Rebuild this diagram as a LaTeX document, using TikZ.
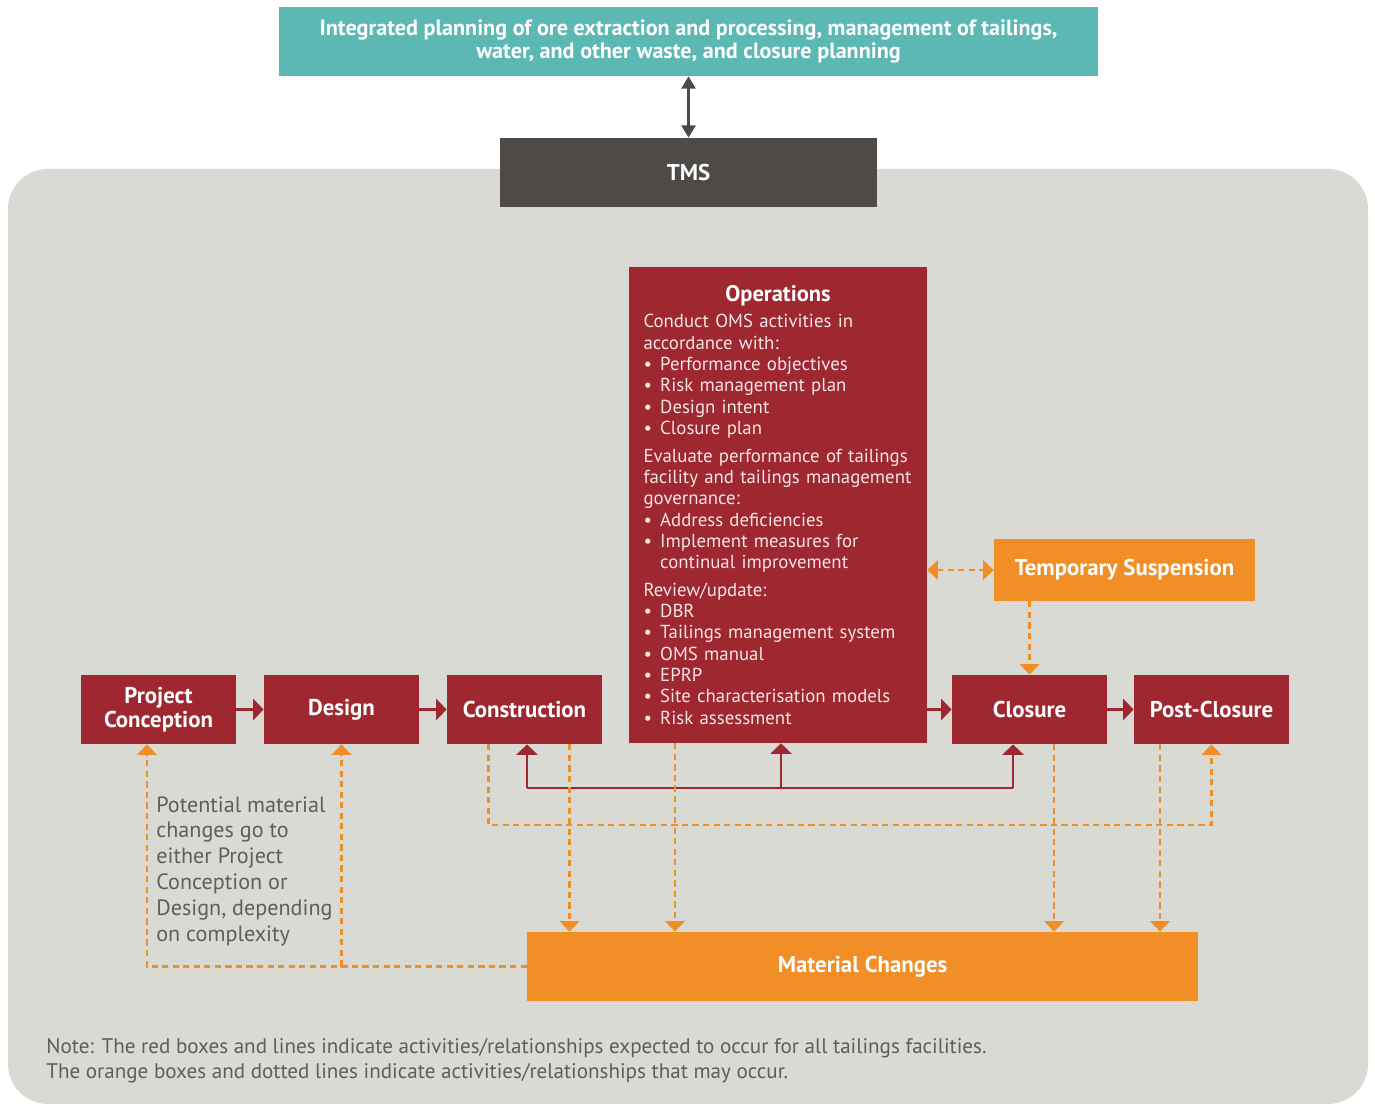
\documentclass[tikz,border=0pt]{standalone}
\usepackage{fontspec}
\setmainfont{PT Sans}
\usetikzlibrary{arrows.meta,calc}
\definecolor{tealbox}{HTML}{5BB8B2}
\definecolor{tmsgray}{HTML}{4E4A47}
\definecolor{bggray}{HTML}{DADAD5}
\definecolor{tmred}{HTML}{9E2730}
\definecolor{tmorange}{HTML}{F28E26}
\definecolor{notegray}{HTML}{5E5E5E}
\definecolor{opstext}{HTML}{F4E6E6}
\hyphenpenalty=10000
\newcommand{\bul}[1]{\par\hangindent=9.5pt\hangafter=1\makebox[9.5pt][l]{\textbullet}#1}
\begin{document}
\begin{tikzpicture}[x=0.02cm,y=-0.02cm,
	redbox/.style={fill=tmred,text=white,font=\bfseries\fontsize{13}{13.6}\selectfont,align=center,minimum width=3.1cm,minimum height=1.38cm,inner sep=2pt},
	orangebox/.style={fill=tmorange,text=white,font=\bfseries\fontsize{13}{13.6}\selectfont,align=center,inner sep=2pt},
	redarrow/.style={draw=tmred,line width=1.6pt,-{Triangle[width=12pt,length=6pt]}},
	orangedash/.style={draw=tmorange,line width=1.5pt,dash pattern=on 3.5pt off 2.5pt},
	otip/.style={-{Triangle[width=11pt,length=6pt]}}]
	
	\useasboundingbox (0,0) rectangle (1375,1104);
	\fill[bggray,rounded corners=0.8cm] (8,169) rectangle (1368,1104);
	
	\node[fill=tealbox,text=white,font=\bfseries\fontsize{12.6}{13.6}\selectfont,align=center,minimum width=16.38cm,minimum height=1.38cm] (plan) at (688.5,41.5) {Integrated planning of ore extraction and processing, management of tailings,\\water, and other waste, and closure planning};
	\node[fill=tmsgray,text=white,font=\bfseries\fontsize{13}{13.6}\selectfont,minimum width=7.54cm,minimum height=1.38cm] (tms) at (688.5,172.5) {TMS};
	\draw[draw=tmsgray,line width=1.5pt,{Triangle[width=8pt,length=7pt]}-{Triangle[width=8pt,length=7pt]}] (plan) -- (tms);
	
	\node[redbox] (pc) at (158.5,709.5) {Project\\Conception};
	\node[redbox] (design) at (341.5,709.5) {Design};
	\node[redbox] (cons) at (524.5,709.5) {Construction};
	\node[redbox] (clos) at (1029.5,709.5) {Closure};
	\node[redbox] (pclos) at (1211.5,709.5) {Post-Closure};
	\node[fill=tmred,text=opstext,minimum height=9.52cm,text width=5.38cm,inner xsep=0.29cm,inner ysep=0pt,align=left,font=\fontsize{10.7}{12.15}\selectfont] (ops) at (778,505) {%
		{\centering\color{white}\bfseries\fontsize{12.8}{14}\selectfont Operations\par}\vspace{2.8pt}
		Conduct OMS activities in\\accordance with:
		\bul{Performance objectives}
		\bul{Risk management plan}
		\bul{Design intent}
		\bul{Closure plan}\par\vspace{3.5pt}
		Evaluate performance of tailings\\facility and tailings management\\governance:
		\bul{Address deficiencies}
		\bul{Implement measures for\newline continual improvement}\par\vspace{3.5pt}
		Review/update:
		\bul{DBR}
		\bul{Tailings management system}
		\bul{OMS manual}
		\bul{EPRP}
		\bul{Site characterisation models}
		\bul{Risk assessment}};
	\node[orangebox,minimum width=5.22cm,minimum height=1.24cm] (ts) at (1124.5,570) {Temporary Suspension};
	\node[orangebox,minimum width=13.42cm,minimum height=1.38cm] (mc) at (862.5,966.5) {Material Changes};
	
	\draw[redarrow] (pc) -- (design);
	\draw[redarrow] (design) -- (cons);
	\draw[redarrow] (clos.west -| ops.east) -- (clos);
	\draw[redarrow] (clos) -- (pclos);
	
	\coordinate (fbL) at (527,788);
	\coordinate (fbM) at (781,788);
	\coordinate (fbR) at (1013,788);
	\draw[draw=tmred,line width=1.6pt] (fbL) -- (fbR);
	\draw[redarrow] (fbL) -- (fbL |- cons.south);
	\draw[redarrow] (fbM) -- (fbM |- ops.south);
	\draw[redarrow] (fbR) -- (fbR |- clos.south);
	
	\draw[orangedash,{Triangle[width=11pt,length=6pt]}-{Triangle[width=11pt,length=6pt]}] (ts.west -| ops.east) -- (ts.west);
	\draw[orangedash,otip] (clos.north |- ts.south) -- (clos.north);
	
	\coordinate (c1) at ($(cons.south)+(-36,0)$);
	\coordinate (c2) at ($(cons.south)+(45,0)$);
	\coordinate (o1) at ($(ops.south)+(-103,0)$);
	\coordinate (k1) at ($(clos.south)+(24.5,0)$);
	\coordinate (p1) at ($(pclos.south)+(-51.5,0)$);
	\coordinate (p0) at ($(pc.south)+(-11.5,0)$);
	\coordinate (dl) at (0,825);
	\draw[orangedash,otip] (c1) |- (pclos |- dl) -- (pclos.south);
	\draw[orangedash,otip] (c2) -- (c2 |- mc.north);
	\draw[orangedash,otip] (o1) -- (o1 |- mc.north);
	\draw[orangedash,otip] (k1) -- (k1 |- mc.north);
	\draw[orangedash,otip] (p1) -- (p1 |- mc.north);
	\draw[orangedash,otip] (mc.west) -| (p0);
	\draw[orangedash,otip] (design.south |- mc.west) -- (design.south);
	
	\node[anchor=north west,inner sep=0pt,text=notegray,align=left,font=\fontsize{12.6}{14.7}\selectfont] (pmtext) at (156,796) {Potential material\\changes go to\\either Project\\Conception or\\Design, depending\\on complexity};
	\node[anchor=north west,inner sep=0pt,text=notegray,align=left,font=\fontsize{12}{14.2}\selectfont] (note) at (46,1038) {Note: The red boxes and lines indicate activities/relationships expected to occur for all tailings facilities.\\The orange boxes and dotted lines indicate activities/relationships that may occur.};
\end{tikzpicture}
\end{document}
